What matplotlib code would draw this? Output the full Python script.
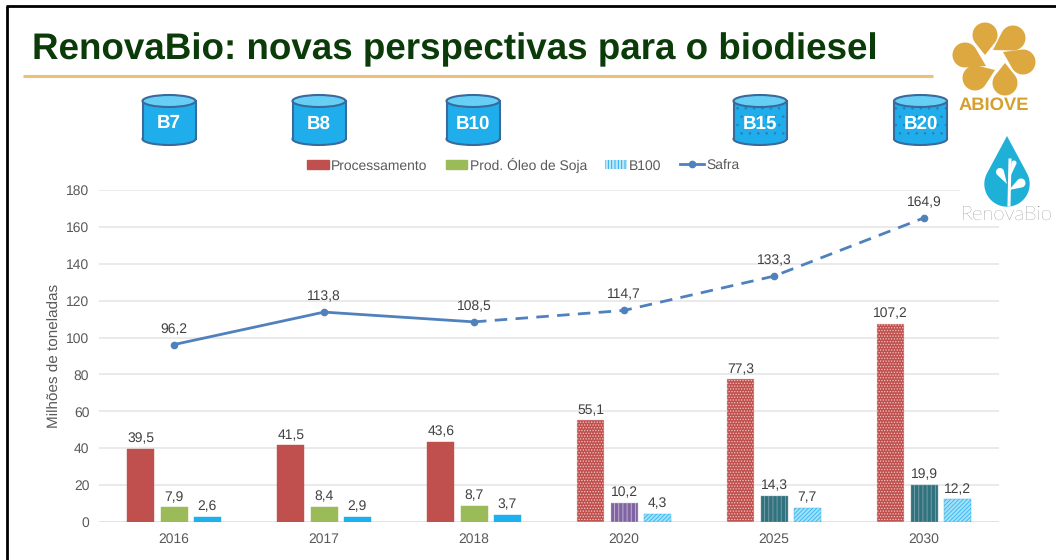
import numpy as np
import matplotlib
matplotlib.use("Agg")
import matplotlib.pyplot as plt
from matplotlib.patches import Rectangle, Ellipse, Polygon, Patch
from matplotlib.lines import Line2D

plt.rcParams['font.family'] = ['Liberation Sans', 'DejaVu Sans']
plt.rcParams['hatch.linewidth'] = 0.6
plt.rcParams['text.hinting'] = 'no_hinting'

years = ['2016', '2017', '2018', '2020', '2025', '2030']
processamento = [39.5, 41.5, 43.6, 55.1, 77.3, 107.2]
oleo = [7.9, 8.4, 8.7, 10.2, 14.3, 19.9]
b100 = [2.6, 2.9, 3.7, 4.3, 7.7, 12.2]
safra = [96.2, 113.8, 108.5, 114.7, 133.3, 164.9]
oleo_colors = ['#9BBB59', '#9BBB59', '#9BBB59', '#8064A2', '#31727F', '#31727F']
blends = ['B7', 'B8', 'B10', 'B15', 'B20']
blend_hatched = [False, False, False, True, True]
blend_x = [169, 319, 473, 760, 920.5]
legend_labels = ['Processamento', 'Prod. Óleo de Soja', 'B100']
line_label = 'Safra'

W, H = 1056, 560
fig = plt.figure(figsize=(W / 100, H / 100), dpi=100, facecolor='white')
GREY = '#595959'
TXT = '#404040'

# main chart
ax = fig.add_axes([99 / W, 1 - 522 / H, 900 / W, 332 / H])
x = np.arange(len(years))
bw, off = 0.18, 0.222
RED, BLUE, LINE = '#C0504D', '#1CB0EE', '#4F81BD'
FS = 10


def lab(v):
    return f'{v:.1f}'.replace('.', ',')


for i in x:
    hatched = i >= 3
    ax.bar(i - off, processamento[i], bw, color=RED,
           edgecolor='#EFC6C4' if hatched else RED, linewidth=0.3,
           hatch='......' if hatched else None, zorder=3)
    ax.bar(i, oleo[i], bw, color=oleo_colors[i],
           edgecolor='#C9BCD9' if i == 3 else ('#7FA3AB' if hatched else oleo_colors[i]),
           linewidth=0.3, hatch='||||' if hatched else None, zorder=3)
    ax.bar(i + off, b100[i], bw, color='#A6E0F8' if hatched else BLUE,
           edgecolor='#2FB4EE' if hatched else BLUE, linewidth=0.3,
           hatch='////////' if hatched else None, zorder=3)
    ax.text(i - off, processamento[i] + 2, lab(processamento[i]),
            ha='center', va='bottom', fontsize=FS, color=TXT, zorder=5)
    ax.text(i, oleo[i] + 2, lab(oleo[i]),
            ha='center', va='bottom', fontsize=FS, color=TXT, zorder=5)
    ax.text(i + off, b100[i] + 2, lab(b100[i]),
            ha='center', va='bottom', fontsize=FS, color=TXT, zorder=5)
    ax.text(i, safra[i] + 4.8, lab(safra[i]),
            ha='center', va='bottom', fontsize=FS, color=TXT, zorder=5)

ax.plot(x[:3], safra[:3], color=LINE, lw=2, zorder=4, solid_capstyle='round')
ax.plot(x[2:], safra[2:], color=LINE, lw=2, ls=(0, (4.5, 3)), zorder=4)
ax.plot(x, safra, ls='none', marker='o', ms=4.5, color=LINE, zorder=4)

ax.set_xlim(-0.5, 5.5)
ax.set_ylim(0, 180)
ax.set_yticks(range(0, 181, 20))
ax.set_xticks(x)
ax.set_xticklabels(years)
ax.tick_params(axis='both', length=0, labelsize=10, labelcolor=GREY)
ax.tick_params(axis='x', pad=8)
ax.tick_params(axis='y', pad=7)
ax.grid(axis='y', color='#E6E6E6', lw=1.2, zorder=0)
ax.set_axisbelow(True)
for s in ax.spines.values():
    s.set_visible(False)
ax.axhline(0, color='#E3E3E3', lw=1.4, zorder=1)
ax.set_ylabel('Milhões de toneladas', fontsize=11, color=GREY)
ax.yaxis.set_label_coords(-0.041, 0.5)

handles = [
    Patch(facecolor=RED, edgecolor=RED),
    Patch(facecolor='#9BBB59', edgecolor='#9BBB59'),
    Patch(facecolor='#BDE8FA', edgecolor='#14A5E8', linewidth=0, hatch='|||||'),
]
fig.legend(handles, legend_labels, ncol=3, loc='center left', frameon=False,
           bbox_to_anchor=(307 / W, 1 - 165 / H), fontsize=10, labelcolor=GREY,
           handlelength=1.58, handleheight=0.65, handletextpad=0.15, columnspacing=1.3,
           borderpad=0, borderaxespad=0)
fig.legend([Line2D([0], [0], color=LINE, lw=2, marker='o', ms=4.5)], [line_label],
           loc='center left', frameon=False, bbox_to_anchor=(680 / W, 1 - 165.5 / H),
           fontsize=10, labelcolor=GREY, handlelength=1.75, handletextpad=0.15,
           borderpad=0, borderaxespad=0)

# overlay in pixel coordinates for the slide decoration
ov = fig.add_axes([0, 0, 1, 1], zorder=10)
ov.set_xlim(0, W)
ov.set_ylim(H, 0)
ov.axis('off')
ov.patch.set_alpha(0)

ov.plot([7, 7], [6, H], color='black', lw=2, solid_capstyle='butt')
ov.plot([6, W], [6, 6], color='black', lw=2, solid_capstyle='butt')
ov.text(32, 49.5, 'RenovaBio: novas perspectivas para o biodiesel', fontsize=26.5,
        fontweight='bold', color='#0A3B08', va='center', ha='left')
ov.plot([23, 933], [75.5, 75.5], color='#EFBE78', lw=2.2, solid_capstyle='butt')


def cylinder(cx, label, dotted):
    w, top, bot, eh = 53, 101, 139, 12
    edge = '#3A6A9C'
    ov.add_patch(Ellipse((cx, bot), w, eh, fc='#1FAEEB', ec=edge, lw=1.5, zorder=2))
    ov.add_patch(Rectangle((cx - w / 2, top), w, bot - top, fc='#1FAEEB', ec='none', zorder=2.1))
    if dotted:
        ov.add_patch(Rectangle((cx - w / 2, top), w, bot - top, fc='none', ec='#2C7FB5',
                               lw=0, hatch='..', zorder=2.2))
    ov.plot([cx - w / 2] * 2, [top, bot], color=edge, lw=1.5, zorder=2.3)
    ov.plot([cx + w / 2] * 2, [top, bot], color=edge, lw=1.5, zorder=2.3)
    ov.add_patch(Ellipse((cx, top), w, eh, fc='#66CFF5', ec=edge, lw=1.5, zorder=2.4))
    ov.text(cx, 123.5, label, color='white', fontsize=13.5, fontweight='bold',
            ha='center', va='center', zorder=3)


for cx, lab_, d in zip(blend_x, blends, blend_hatched):
    cylinder(cx, lab_, d)

# logo background hides the chart's gridlines here
ov.add_patch(Rectangle((960, 130), 96, 92, fc='white', ec='none', zorder=1))
ov.add_patch(Rectangle((1000, 222), 56, 10, fc='white', ec='none', zorder=1))


def teardrop(tip, centre, r, color, z=4):
    tip, centre = np.array(tip, float), np.array(centre, float)
    d = centre - tip
    L = np.hypot(*d)
    base = np.arctan2(-d[1], -d[0])
    half = np.arccos(min(r / L, 1))
    th = np.linspace(base + half, base + 2 * np.pi - half, 40)
    pts = np.c_[centre[0] + r * np.cos(th), centre[1] + r * np.sin(th)]
    ov.add_patch(Polygon(np.vstack([tip, pts]), closed=True, fc=color, ec='none', zorder=z))


petals = [((985, 55), (985, 35)), ((993, 50), (1013, 38)), ((1003, 52), (1023, 62)),
          ((1005, 63), (1005, 83)), ((995, 70), (975, 78)), ((986, 66), (965, 55))]
for (tp, ct) in petals:
    teardrop(tp, ct, 12.5, '#DDA83F')
ov.text(994, 105, 'ABIOVE', color='#D4A02E', fontsize=13.2, fontweight='bold',
        ha='center', va='center', zorder=4)

teardrop((1007, 136), (1007, 184), 22.7, '#1FB0D8')
ov.plot([1010, 1009], [160, 205], color='white', lw=2.2, zorder=5)
for tp, ct, r in [((1009, 190), (1021, 183), 4.5), ((1007, 184), (1000, 172), 4),
                  ((1010, 177), (1014, 163), 2.5)]:
    teardrop(tp, ct, r, 'white', z=5)
ov.text(1007, 214, 'RenovaBio', color='#555555', fontsize=14.6, family='Lato',
        fontweight='light', ha='center', va='center', zorder=5)

fig.savefig('out.png', dpi=100, facecolor='white')
